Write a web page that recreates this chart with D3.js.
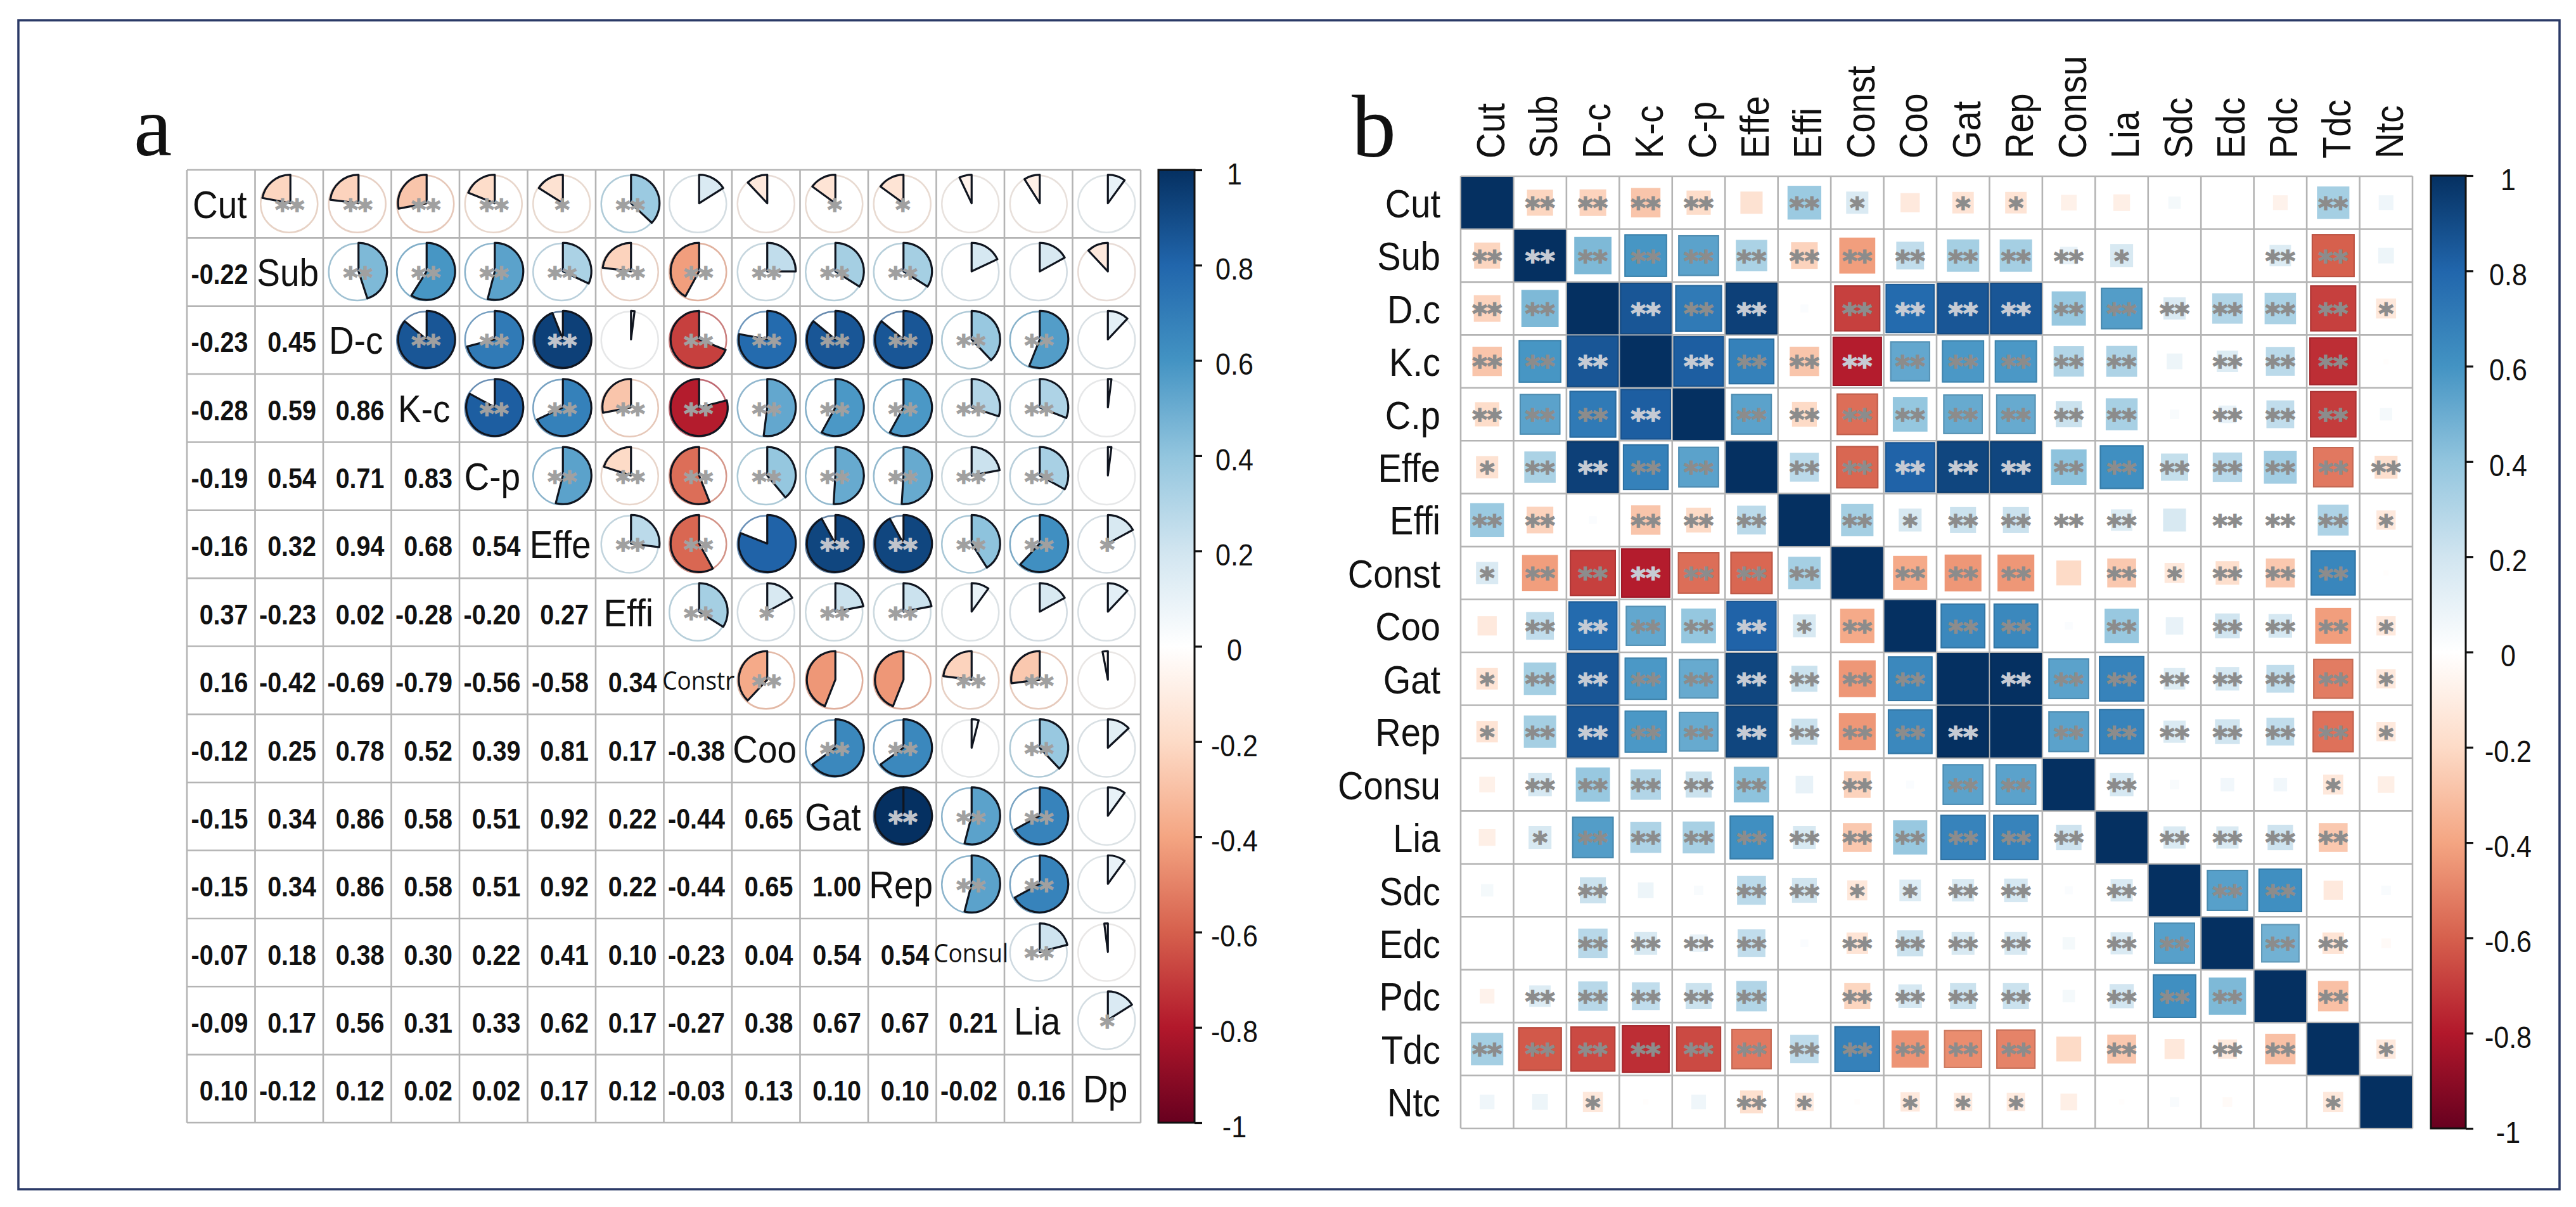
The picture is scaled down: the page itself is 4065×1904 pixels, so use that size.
<!DOCTYPE html>
<html><head><meta charset="utf-8">
<script src="https://cdn.jsdelivr.net/npm/d3@7/dist/d3.min.js"></script>
<style>html,body{margin:0;padding:0;background:#fff;overflow:hidden}svg{display:block}text{font-family:"Liberation Sans",Arial,sans-serif}</style>
</head><body><svg id="c" width="4065" height="1904"></svg>
<script>
// ---------- data ----------
const varsA=["Cut","Sub","D-c","K-c","C-p","Effe","Effi","Constr","Coo","Gat","Rep","Consul","Lia","Dp"];
const lowerA=[
[],
[-0.22],
[-0.23,0.45],
[-0.28,0.59,0.86],
[-0.19,0.54,0.71,0.83],
[-0.16,0.32,0.94,0.68,0.54],
[0.37,-0.23,0.02,-0.28,-0.20,0.27],
[0.16,-0.42,-0.69,-0.79,-0.56,-0.58,0.34],
[-0.12,0.25,0.78,0.52,0.39,0.81,0.17,-0.38],
[-0.15,0.34,0.86,0.58,0.51,0.92,0.22,-0.44,0.65],
[-0.15,0.34,0.86,0.58,0.51,0.92,0.22,-0.44,0.65,1.00],
[-0.07,0.18,0.38,0.30,0.22,0.41,0.10,-0.23,0.04,0.54,0.54],
[-0.09,0.17,0.56,0.31,0.33,0.62,0.17,-0.27,0.38,0.67,0.67,0.21],
[0.10,-0.12,0.12,0.02,0.02,0.17,0.12,-0.03,0.13,0.10,0.10,-0.02,0.16]];
const upperStarsA=[
[2,2,2,2,1,2,0,0,1,1,0,0,0],
[2,2,2,2,2,2,2,2,2,0,0,0],
[2,2,2,0,2,2,2,2,2,2,0],
[2,2,2,2,2,2,2,2,2,0],
[2,2,2,2,2,2,2,2,0],
[2,2,0,2,2,2,2,1],
[2,1,2,2,0,0,0],
[2,0,0,2,2,0],
[2,2,0,2,0],
[2,2,2,0],
[2,2,0],
[2,0],
[1]];
const rowVarsB=["Cut","Sub","D.c","K.c","C.p","Effe","Effi","Const","Coo","Gat","Rep","Consu","Lia","Sdc","Edc","Pdc","Tdc","Ntc"];
const colVarsB=["Cut","Sub","D-c","K-c","C-p","Effe","Effi","Const","Coo","Gat","Rep","Consu","Lia","Sdc","Edc","Pdc","Tdc","Ntc"];
const valuesB=[
[1,-.22,-.23,-.28,-.19,-.16,.37,.16,-.12,-.15,-.15,-.08,-.09,.05,0,-.07,.34,.07],
[-.22,1,.45,.59,.54,.32,-.23,-.42,.25,.34,.34,.1,.17,0,0,.15,-.6,.08],
[-.23,.45,1,.86,.71,.94,.02,-.69,.78,.86,.86,.38,.56,.16,.3,.32,-.69,-.13],
[-.28,.59,.86,1,.83,.68,-.28,-.79,.52,.58,.58,.30,.31,.08,.15,.27,-.74,-.01],
[-.19,.54,.71,.83,1,.54,-.20,-.56,.39,.51,.51,.22,.33,.03,.1,.25,-.7,.05],
[-.16,.32,.94,.68,.54,1,.27,-.58,.81,.92,.92,.41,.62,.24,.28,.35,-.53,-.17],
[.37,-.23,.02,-.28,-.20,.27,1,.34,.17,.22,.22,.01,.15,.17,0,0,.31,-.12],
[.16,-.42,-.69,-.79,-.56,-.58,.34,1,-.38,-.44,-.44,-.2,-.27,-.13,-.18,-.27,.66,-.01],
[-.12,.25,.78,.52,.39,.81,.17,-.38,1,.65,.65,.02,.38,.10,.2,.18,-.42,-.12],
[-.15,.34,.86,.58,.51,.92,.22,-.44,.65,1,1,.54,.67,.15,.18,.25,-.52,-.12],
[-.15,.34,.86,.58,.51,.92,.22,-.44,.65,1,1,.54,.67,.16,.2,.25,-.55,-.12],
[-.08,.18,.38,.30,.22,.41,.10,-.23,.02,.54,.54,1,.18,.03,.06,.06,-.13,-.09],
[-.09,.17,.56,.31,.33,.62,.17,-.27,.38,.67,.67,.21,1,.16,.16,.21,-.27,0],
[.05,0,.22,.08,.03,.27,.2,-.13,.15,.16,.18,.02,.16,1,.55,.62,-.12,.03],
[0,0,.28,.17,.1,.25,.02,-.15,.22,.17,.17,.05,.16,.55,1,.48,-.15,-.03],
[-.07,.15,.28,.25,.22,.3,0,-.22,.18,.22,.22,.05,.19,.62,.45,1,-.3,0],
[.34,-.62,-.66,-.74,-.66,-.53,.26,.68,-.45,-.47,-.5,-.2,-.27,-.13,-.12,-.3,1,-.12],
[.07,.08,-.13,-.01,.07,-.17,-.11,-.01,-.12,-.11,-.11,-.09,-.01,.03,-.03,0,-.13,1]];
const starsB=[
"022220210110000020",
"222222222222100220",
"220222022222222221",
"222022222222202220",
"222202222222202220",
"122220222222222222",
"220222021222202221",
"122222202220212220",
"022222120220202221",
"122222222022222221",
"122222222202222221",
"022222020220200010",
"012222222222022220",
"002002211220202200",
"002222022220220220",
"022222022220222020",
"222222222220202201",
"001002101110000010"];
const legendTicks=[1,0.8,0.6,0.4,0.2,0,-0.2,-0.4,-0.6,-0.8,-1];
const legendLabels=["1","0.8","0.6","0.4","0.2","0","-0.2","-0.4","-0.6","-0.8","-1"];
const rampDomain=[-1,-.8,-.6,-.4,-.2,0,.2,.4,.6,.8,1];
const rampColors=["#67001F","#B2182B","#D6604D","#F4A582","#FDDBC7","#FFFFFF","#D1E5F0","#92C5DE","#4393C3","#2166AC","#053061"];

// ---------- helpers ----------
const svg=d3.select("#c");
const color=d3.scaleLinear().domain(rampDomain).range(rampColors).interpolate(d3.interpolateRgb);
const GRID="#b4b4b4";
svg.append("rect").attr("width",4065).attr("height",1904).attr("fill","#fff");
svg.append("rect").attr("x",29).attr("y",32).attr("width",4010).attr("height",1844)
  .attr("fill","none").attr("stroke","#2b3a67").attr("stroke-width",3.5);

const defs=svg.append("defs");
const grad=defs.append("linearGradient").attr("id","ramp").attr("x1",0).attr("x2",0).attr("y1",0).attr("y2",1);
rampDomain.slice().reverse().forEach((d,i)=>grad.append("stop").attr("offset",i/10).attr("stop-color",color(d)));

function grid(g,x,y){
  const edgesX=x.domain().map(d=>x(d)).concat([x.range()[1]]);
  const edgesY=y.domain().map(d=>y(d)).concat([y.range()[1]]);
  g.selectAll("line.v").data(edgesX).join("line").attr("class","v").attr("x1",d=>d).attr("x2",d=>d).attr("y1",y.range()[0]).attr("y2",y.range()[1]).attr("stroke",GRID).attr("stroke-width",2.6);
  g.selectAll("line.h").data(edgesY).join("line").attr("class","h").attr("y1",d=>d).attr("y2",d=>d).attr("x1",x.range()[0]).attr("x2",x.range()[1]).attr("stroke",GRID).attr("stroke-width",2.6);
}
function legend(x0,w,y0,y1,tx){
  const s=d3.scaleLinear().domain([-1,1]).range([y1,y0]);
  const g=svg.append("g");
  g.append("rect").attr("x",x0).attr("y",y0).attr("width",w).attr("height",y1-y0).attr("fill","url(#ramp)").attr("stroke","#111").attr("stroke-width",3);
  const ax=g.append("g").attr("transform",`translate(${x0+w},0)`)
    .call(d3.axisRight(s).tickValues(legendTicks).tickSize(12).tickFormat((d,i)=>legendLabels[i]));
  ax.select(".domain").remove();
  ax.selectAll(".tick line").attr("stroke","#111").attr("stroke-width",3.2);
  ax.selectAll(".tick text").attr("x",tx-(x0+w)).attr("y",0).attr("dy","0.46em").attr("text-anchor","middle")
    .attr("transform","scale(1,1.13)").attr("font-size",43).attr("fill","#111");
}
function stars(g,cx,cy,n,size,fill){
  if(!n) return;
  g.append("text").attr("x",cx).attr("y",cy+size*0.52).attr("text-anchor","middle")
    .style("font-family",'"DejaVu Sans"').attr("font-size",size).attr("font-weight","bold")
    .attr("fill",fill).attr("stroke",fill).attr("stroke-width",1.6).text("*".repeat(n));
}
function stretched(g,x,y,sy,anchor,size,weight,txt){
  return g.append("text").attr("transform",`translate(${x},${y}) scale(1,${sy})`).attr("text-anchor",anchor)
    .attr("font-size",size).attr("font-weight",weight).attr("fill","#111").text(txt);
}

// ---------- panel a ----------
const xa=d3.scaleBand().domain(varsA).range([295,1800]);
const ya=d3.scaleBand().domain(varsA).range([268,1771]);
const ga=svg.append("g");
grid(ga,xa,ya);
const arc=d3.arc().innerRadius(0).outerRadius(45);
const smallDiag=new Set(["Constr","Consul"]);
varsA.forEach((rv,i)=>{
  const cy=ya(rv)+ya.bandwidth()/2;
  varsA.forEach((cv,j)=>{
    const cx=xa(cv)+xa.bandwidth()/2;
    if(i===j){
      if(smallDiag.has(rv)){
        stretched(ga,cx+1,cy+15,1.08,"middle",37,500,rv).style("font-family",'"Open Sans"');
      }else{
        stretched(ga,cx-2,cy+22,1.1,"middle",55,400,rv);
      }
    }else if(i>j){
      const v=lowerA[i][j];
      stretched(ga,xa(cv)+xa.bandwidth()-11,cy+19,1.12,"end",39.5,"bold",v.toFixed(2));
    }else{
      const v=lowerA[j][i];
      const c=color(v);
      ga.append("circle").attr("cx",cx).attr("cy",cy).attr("r",45).attr("fill","none")
        .attr("stroke",d3.color(c).darker(0.4).formatHex()).attr("stroke-opacity",0.65).attr("stroke-width",2.5);
      const end=2*Math.PI*Math.sign(v)*Math.min(0.999,Math.abs(v));
      ga.append("path").attr("transform",`translate(${cx+2},${cy-1})`)
        .attr("d",arc({startAngle:0,endAngle:end})).attr("fill",c)
        .attr("stroke","#10151f").attr("stroke-width",3.2).attr("stroke-linejoin","round");
      stars(ga,cx+1,cy+1,upperStarsA[i][j-i-1],44,Math.abs(v)>=.9?"#c0c4cc":"#a0a0a0");
    }
  });
});
legend(1828,57,268,1771,1948);

// ---------- panel b ----------
const xb=d3.scaleBand().domain(colVarsB).range([2305,3807]);
const yb=d3.scaleBand().domain(rowVarsB).range([278,1780]);
const gb=svg.append("g");
grid(gb,xb,yb);
const side=d3.scaleSqrt().domain([0,1]).range([0,xb.bandwidth()*1.05]);
rowVarsB.forEach((rv,i)=>{
  const cy=yb(rv)+yb.bandwidth()/2;
  colVarsB.forEach((cv,j)=>{
    const cx=xb(cv)+xb.bandwidth()/2, v=valuesB[i][j];
    const s=Math.min(side(Math.abs(v)),xb.bandwidth()-2);
    if(s>0){
      const c=color(v);
      gb.append("rect").attr("x",cx-s/2).attr("y",cy-s/2).attr("width",s).attr("height",s)
        .attr("fill",c);
      if(Math.abs(v)>.45&&i!==j) gb.append("rect").attr("x",cx-s/2+1).attr("y",cy-s/2+1).attr("width",s-2).attr("height",s-2)
        .attr("fill","none").attr("stroke",d3.color(c).darker(0.4).formatHex()).attr("stroke-width",2);
    }
    stars(gb,cx,cy,+starsB[i][j],45,Math.abs(v)>=.78?"#c6cbd4":"#8c8c8c");
  });
  stretched(gb,2273,cy+23,1.13,"end",56,400,rv);
});
colVarsB.forEach(cv=>{
  const cx=xb(cv)+xb.bandwidth()/2;
  gb.append("text").attr("transform",`translate(${cx+27},250) scale(1.13,1) rotate(-90)`).attr("font-size",56).attr("fill","#111").text(cv);
});
legend(3836,55,277,1780,3958);

// ---------- panel letters ----------
svg.append("text").attr("x",211).attr("y",245).attr("font-size",136).attr("fill","#111").style("font-family",'"Liberation Serif"').text("a");
svg.append("text").attr("x",2133).attr("y",247).attr("font-size",140).attr("fill","#111").style("font-family",'"Liberation Serif"').text("b");
</script></body></html>
